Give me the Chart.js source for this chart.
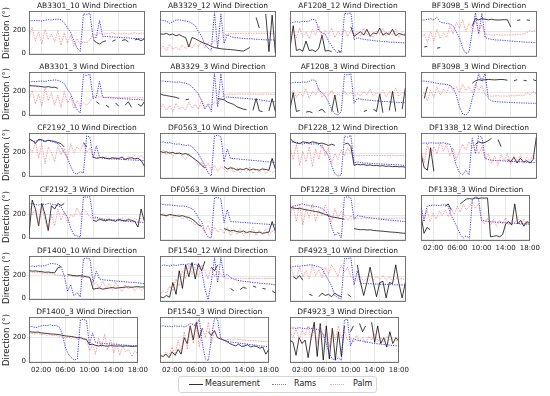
<!DOCTYPE html>
<html>
<head>
<meta charset="utf-8">
<script src="https://cdn.jsdelivr.net/npm/chart.js@4"></script>
<style>
  body { margin: 0; background: #fff; }
  #wrap { position: relative; width: 550px; height: 396px; overflow: hidden; font-family: "DejaVu Sans", sans-serif; }
  #wrap canvas { position: absolute; }
  .legend { position: absolute; left: 178px; top: 376px; width: 197px; height: 15px; border: 1px solid #d6d6d6; border-radius: 3px; background: #fff; }
  .sw { position: absolute; top: 7px; height: 0; width: 14px; }
  .lb { position: absolute; top: 1px; font-size: 8px; line-height: 12px; color: #222; }
</style>
</head>
<body>
<div id="wrap">
  <div class="legend">
    <span class="sw" style="left:10px; border-top:1.3px solid #333;"></span>
    <span class="lb" style="left:26px;">Measurement</span>
    <span class="sw" style="left:93px; border-top:1.2px dotted rgba(60,60,235,0.7);"></span>
    <span class="lb" style="left:115px;">Rams</span>
    <span class="sw" style="left:151px; border-top:1.2px dotted rgba(235,90,90,0.55);"></span>
    <span class="lb" style="left:174px;">Palm</span>
  </div>
</div>
<script>
// time axis, hours since 00:00
const hours = [0,0.5,1,1.5,2,2.5,3,3.5,4,4.5,5,5.5,6,6.5,7,7.5,8,8.5,9,9.5,10,10.5,11,11.5,12,12.5,13,13.5,14,14.5,15,15.5,16,16.5,17,17.5,18];
const xTicks = [2, 6, 10, 14, 18];
const yTicks = [0, 200];

// AB3301_10
const ab3301_10_meas = [null,null,null,null,null,null,null,null,null,null, null,null,null,null,null,null,null,null,null,null, 120,95,80,100,110,null,105,118,null,112, 120,100,null,118,125,110,128];
const ab3301_10_rams = [290,288,292,290,286,293,298,295,300,302, 296,270,225,185,110,45,15,350,345,355, 135,140,290,150,148,146,144,142,140,138, 136,135,132,130,130,128,126];
const ab3301_10_palm = [140,230,110,190,80,210,120,170,100,200, 70,180,90,160,60,130,80,100,90,120, 170,160,180,165,175,170,185,168,178,172, 180,170,176,182,170,178,175];
// AB3329_12
const ab3329_12_meas = [180,178,185,172,180,165,175,160,150,70, 150,140,125,110,100,90,75,65,60,55, 52,50,48,45,42,38,35,50,65,null, 320,230,null,350,30,340,20];
const ab3329_12_rams = [300,295,290,270,285,298,300,295,290,285, 270,250,200,160,90,60,40,360,60,350, 100,175,160,150,148,145,142,140,140,138, 135,135,132,130,130,130,128];
const ab3329_12_palm = [50,80,40,90,50,70,45,85,55,90, 60,100,70,120,60,110,90,130,100,140, 170,180,185,182,186,184,188,185,187,186, 188,185,186,184,187,185,186];
// AF1208_12
const af1208_12_meas = [60,250,40,50,35,120,40,45,30,60, 170,35,40,30,null,40,25,null,null,240, 160,180,200,170,220,160,190,180,230,170, 190,175,220,165,185,175,170];
const af1208_12_rams = [270,280,285,280,288,285,290,305,300,210, 190,180,120,80,40,20,30,355,350,360, 130,150,140,135,130,128,125,120,120,115, 115,112,110,110,108,105,105];
const af1208_12_palm = [170,210,150,230,160,200,140,220,170,250, 150,210,180,230,150,200,170,220,160,210, 170,200,160,230,170,190,150,210,180,230, 160,200,170,220,150,200,180];
// BF3098_5
const bf3098_5_meas = [null,70,75,null,null,60,65,null,null,null, null,null,null,null,null,null,250,310,300,310, 305,300,305,300,298,300,302,300,240,null, 295,300,null,300,295,null,300];
const bf3098_5_rams = [300,298,305,310,300,320,280,275,270,265, 250,200,150,60,15,30,200,360,180,355, 150,140,135,130,128,128,125,122,120,118, 115,115,112,110,110,108,106];
const bf3098_5_palm = [150,180,110,200,120,220,140,190,150,250, 180,280,230,300,200,270,220,290,200,260, 180,175,170,172,175,170,172,170,175,172, 178,175,180,190,210,200,220];
// AB3301_3
const ab3301_3_meas = [255,252,250,248,245,240,245,238,240,230, null,null,null,null,null,null,null,null,null,null, null,110,90,null,80,60,null,100,70,null, 80,110,60,null,90,70,110];
const ab3301_3_rams = [285,290,288,292,295,290,298,300,305,300, 290,270,220,180,100,40,10,350,345,355, 140,150,290,150,148,146,144,142,140,138, 136,134,132,130,130,128,126];
const ab3301_3_palm = [130,210,90,180,70,230,120,190,80,170, 60,200,100,150,50,120,70,100,80,110, 160,150,155,150,148,152,150,148,150,146, 148,145,150,147,145,148,146];
// AB3329_3
const ab3329_3_meas = [190,180,175,170,165,160,150,null,140,145, null,140,null,null,null,null,null,null,150,145, 140,120,110,100,80,70,60,55,null,50, 150,45,40,null,45,150,40];
const ab3329_3_rams = [300,298,295,292,290,288,290,285,280,270, 250,220,190,130,60,100,40,360,80,360, 150,165,160,158,156,155,152,150,148,145, 142,140,135,130,128,125,122];
const ab3329_3_palm = [60,100,50,90,40,110,60,80,50,120, 70,100,60,130,80,110,90,120,100,150, 180,185,188,186,190,188,187,189,188,190, 186,188,187,189,188,186,188];
// AF1208_3
const af1208_3_meas = [60,200,40,50,null,35,40,30,null,45, 60,30,null,40,180,30,null,null,null,null, null,null,null,40,50,null,60,40,190,30, null,50,210,40,null,60,240];
const af1208_3_rams = [280,285,288,285,290,288,295,310,300,220, 200,170,120,60,20,10,40,355,350,360, 110,150,145,140,138,135,132,130,128,126, 125,122,120,118,117,115,114];
const af1208_3_palm = [180,220,160,200,170,230,150,210,180,240, 160,200,175,220,160,190,170,210,180,200, 170,190,175,210,180,230,170,200,185,220, 165,210,180,240,170,200,185];
// BF3098_3
const bf3098_3_meas = [null,150,250,null,null,null,null,null,null,null, null,null,null,null,null,null,280,300,310,305, 310,312,310,308,310,312,310,305,null,300, 310,null,305,300,null,310,300];
const bf3098_3_rams = [300,298,295,290,285,280,275,272,270,260, 240,180,80,20,10,40,150,250,360,300, 360,150,130,125,122,120,120,118,117,115, 114,113,112,111,110,110,108];
const bf3098_3_palm = [150,200,130,220,160,250,180,230,200,270, 220,250,200,270,220,250,200,280,220,260, 180,175,170,172,175,170,172,170,174,172, 175,180,170,200,180,210,190];
// CF2192_10
const cf2192_10_meas = [320,310,280,320,315,300,310,305,300,290, 280,250,null,null,null,null,null,290,250,null, 160,150,155,160,150,145,155,150,148,160, 140,150,155,145,150,130,80];
const cf2192_10_rams = [310,305,300,310,305,300,310,300,290,280, 250,200,150,80,20,10,30,20,350,340, 150,260,160,150,148,145,145,143,140,140, 138,136,135,133,132,130,128];
const cf2192_10_palm = [250,200,300,150,280,100,250,200,120,260, 180,240,150,280,200,250,220,280,200,240, 170,150,160,145,165,150,140,160,150,165, 140,170,150,175,145,180,140];
// DF0563_10
const df0563_10_meas = [220,210,215,205,210,200,205,195,200,190, 170,150,130,100,80,null,null,null,null,null, 90,70,80,75,60,70,65,75,60,70, 65,60,70,65,60,160,70];
const df0563_10_rams = [295,300,290,295,285,280,282,275,270,272, 260,230,200,150,100,40,10,350,355,345, 130,240,160,158,155,153,150,148,145,143, 140,138,135,132,130,128,125];
const df0563_10_palm = [200,230,190,220,180,210,200,180,150,200, 170,140,100,130,70,120,60,100,50,90, 70,40,90,40,80,35,70,40,90,30, 70,40,80,30,60,40,50];
// DF1228_12
const df1228_12_meas = [330,300,290,285,300,295,290,300,295,285, 290,280,270,280,270,null,null,280,290,260, 100,110,105,108,100,105,98,100,95,98, 92,95,90,92,88,90,85];
const df1228_12_rams = [290,300,295,288,280,290,285,280,285,275, 260,220,180,100,30,10,20,350,340,355, 120,130,125,120,120,118,115,115,112,112, 110,108,108,105,105,103,100];
const df1228_12_palm = [250,150,280,100,220,130,260,90,240,150, 280,180,250,120,200,150,230,180,250,200, 180,185,182,186,184,185,183,186,184,185, 183,184,185,183,184,185,183];
// DF1338_12
const df1338_12_meas = [200,80,60,250,50,null,null,null,null,null, null,null,null,null,null,null,null,280,300,290, 295,310,330,null,320,260,null,150,130,170, 120,160,130,140,120,150,340];
const df1338_12_rams = [285,290,288,292,290,288,290,292,285,280, 200,100,40,20,60,20,330,200,350,340, 160,150,145,142,140,140,138,136,135,133, 132,130,130,128,127,126,125];
const df1338_12_palm = [250,120,280,180,260,200,300,220,280,180, 250,150,220,280,230,300,250,280,200,260, 150,200,120,180,100,190,140,200,110,180, 130,190,120,170,140,190,130];
// CF2192_3
const cf2192_3_meas = [20,330,250,100,300,200,60,280,250,300, 280,300,null,null,null,null,null,null,null,null, 150,140,160,150,145,155,150,140,160,150, 145,155,150,140,90,250,140];
const cf2192_3_rams = [295,300,290,285,295,290,300,295,290,280, 270,220,180,80,20,10,0,360,355,360, 170,180,165,160,158,155,152,150,148,145, 142,140,138,136,134,132,130];
const cf2192_3_palm = [300,200,250,100,280,150,50,200,100,250, 150,220,130,200,180,260,200,250,220,180, 160,170,150,165,140,170,150,160,145,175, 150,170,140,165,150,170,155];
// DF0563_3
const df0563_3_meas = [210,205,200,210,205,200,195,200,190,185, 170,150,120,110,null,null,null,null,null,null, 90,80,70,75,65,60,70,55,65,60, 55,60,50,55,60,150,65];
const df0563_3_rams = [300,295,290,292,288,285,280,282,278,270, 260,230,180,150,60,20,10,350,355,340, 140,250,150,148,146,144,142,140,138,136, 134,132,130,128,126,124,122];
const df0563_3_palm = [200,220,190,210,180,200,210,170,190,160, 150,120,150,100,60,120,40,100,60,90, 50,100,30,80,40,90,30,70,40,100, 30,80,40,90,30,70,50];
// DF1228_3
const df1228_3_meas = [270,265,260,262,255,250,245,240,235,230, 220,210,200,190,185,180,175,170,null,null, 90,85,80,82,78,80,75,72,70,68, 65,62,60,58,55,52,50];
const df1228_3_rams = [275,280,285,295,300,290,285,280,278,272, 260,240,200,100,30,60,10,355,360,350, 170,200,195,190,185,180,178,175,170,168, 165,162,160,158,155,152,150];
const df1228_3_palm = [200,280,150,300,120,260,180,300,150,250, 200,290,230,150,260,180,240,200,160,200, 170,180,175,180,178,180,176,178,180,177, 178,180,176,178,180,177,178];
// DF1338_3
const df1338_3_meas = [200,50,100,80,null,null,null,null,280,300, 250,null,null,300,320,340,345,340,350,345, 350,348,350,20,25,30,20,40,130,150, 120,300,130,160,110,150,130];
const df1338_3_rams = [285,150,280,285,290,288,285,290,292,280, 200,150,100,40,10,30,5,340,360,350, 160,155,150,148,146,145,143,142,140,138, 136,135,133,132,130,128,125];
const df1338_3_palm = [240,180,250,150,220,170,240,200,250,190, 260,210,280,230,300,250,280,320,260,300, 160,130,180,120,170,110,160,130,180,120, 160,140,190,120,170,130,160];
// DF1400_10
const df1400_10_meas = [245,240,242,238,235,230,232,228,225,270, 280,null,210,205,200,198,200,195,190,185, 80,85,90,80,85,90,95,88,92,95, 98,100,95,100,102,98,100];
const df1400_10_rams = [280,285,280,290,285,290,300,310,305,300, 280,200,60,120,20,50,10,350,355,350, 140,240,170,165,160,158,155,152,150,148, 145,142,140,138,136,132,128];
const df1400_10_palm = [235,230,225,230,220,225,215,220,210,205, 200,200,195,200,190,195,190,185,190,180, 120,140,80,150,90,130,70,140,100,60, 120,80,110,60,100,70,90];
// DF1540_12
const df1540_12_meas = [30,20,40,25,150,50,250,100,300,200, 320,180,310,250,330,null,280,250,300,null, null,null,100,80,null,90,110,100,null,120, 110,null,100,95,null,80,60];
const df1540_12_rams = [280,300,295,290,300,295,300,305,300,310, 300,305,290,250,100,5,150,360,150,360, 200,220,190,180,170,165,160,158,155,150, 148,145,142,140,138,135,130];
const df1540_12_palm = [40,80,60,120,80,180,120,250,180,300, 220,280,200,300,250,180,280,200,250,220, 190,185,188,186,184,186,185,184,186,185, 184,186,185,184,186,185,184];
// DF4923_10
const df4923_10_meas = [null,200,180,210,170,null,50,40,null,30, 60,40,50,30,60,40,30,null,50,30, null,300,150,40,150,280,150,30,150,160, 20,150,140,300,140,20,150];
const df4923_10_rams = [280,285,290,288,292,295,300,298,290,285, 270,220,170,120,40,20,10,355,350,360, 130,250,145,142,140,140,138,137,136,135, 134,133,132,131,130,130,128];
const df4923_10_palm = [300,220,180,280,200,250,180,300,210,260, 190,280,220,300,250,200,300,240,280,200, 180,170,200,160,190,210,170,200,180,210, 170,200,160,190,175,185,170];
// DF1400_3
const df1400_3_meas = [250,248,245,248,240,238,235,232,230,228, 225,220,215,212,210,205,200,200,190,185, 140,145,135,130,135,130,128,132,130,128, 130,127,130,128,125,128,130];
const df1400_3_rams = [290,295,285,290,300,305,300,310,300,305, 290,230,120,60,30,10,20,350,355,345, 140,240,160,155,152,150,148,146,145,143, 140,138,136,134,132,130,128];
const df1400_3_palm = [240,235,230,240,225,230,220,225,215,220, 210,205,200,205,195,200,190,195,185,190, 90,140,60,200,120,230,100,180,70,150, 50,130,80,100,40,90,60];
// DF1540_3
const df1540_3_meas = [50,40,60,30,80,50,100,60,200,150, 300,180,330,200,280,null,250,220,260,200, 190,180,170,150,140,130,145,125,130,140, 120,130,125,110,120,60,100];
const df1540_3_rams = [295,300,295,298,292,300,295,300,290,300, 320,310,300,360,150,20,5,200,360,360, 200,180,170,165,160,158,155,150,148,145, 140,138,135,130,128,125,120];
const df1540_3_palm = [60,40,80,50,120,60,180,80,250,100, 300,150,330,120,280,200,330,150,260,200, 185,180,182,185,180,190,185,180,178,175, 176,174,172,170,168,170,168];
// DF4923_3
const df4923_3_meas = [180,160,50,200,150,180,30,200,330,40, 320,10,300,20,280,10,250,40,300,null, 250,300,null,320,250,300,null,330,160,300, 150,200,120,250,150,200,170];
const df4923_3_rams = [280,282,278,285,280,275,282,278,275,270, 260,230,150,60,20,10,30,5,350,355, 130,190,180,175,170,165,160,155,150,148, 145,142,140,136,134,130,128];
const df4923_3_palm = [250,200,280,180,260,220,300,180,280,150, 300,200,260,120,280,180,300,200,250,180, 200,160,220,170,200,150,210,180,230,170, 200,160,210,180,190,170,200];

// name, measurement, rams, palm, row, col
const panels = [
  ['AB3301_10', ab3301_10_meas, ab3301_10_rams, ab3301_10_palm, 0, 0],
  ['AB3329_12', ab3329_12_meas, ab3329_12_rams, ab3329_12_palm, 0, 1],
  ['AF1208_12', af1208_12_meas, af1208_12_rams, af1208_12_palm, 0, 2],
  ['BF3098_5', bf3098_5_meas, bf3098_5_rams, bf3098_5_palm, 0, 3],
  ['AB3301_3', ab3301_3_meas, ab3301_3_rams, ab3301_3_palm, 1, 0],
  ['AB3329_3', ab3329_3_meas, ab3329_3_rams, ab3329_3_palm, 1, 1],
  ['AF1208_3', af1208_3_meas, af1208_3_rams, af1208_3_palm, 1, 2],
  ['BF3098_3', bf3098_3_meas, bf3098_3_rams, bf3098_3_palm, 1, 3],
  ['CF2192_10', cf2192_10_meas, cf2192_10_rams, cf2192_10_palm, 2, 0],
  ['DF0563_10', df0563_10_meas, df0563_10_rams, df0563_10_palm, 2, 1],
  ['DF1228_12', df1228_12_meas, df1228_12_rams, df1228_12_palm, 2, 2],
  ['DF1338_12', df1338_12_meas, df1338_12_rams, df1338_12_palm, 2, 3],
  ['CF2192_3', cf2192_3_meas, cf2192_3_rams, cf2192_3_palm, 3, 0],
  ['DF0563_3', df0563_3_meas, df0563_3_rams, df0563_3_palm, 3, 1],
  ['DF1228_3', df1228_3_meas, df1228_3_rams, df1228_3_palm, 3, 2],
  ['DF1338_3', df1338_3_meas, df1338_3_rams, df1338_3_palm, 3, 3],
  ['DF1400_10', df1400_10_meas, df1400_10_rams, df1400_10_palm, 4, 0],
  ['DF1540_12', df1540_12_meas, df1540_12_rams, df1540_12_palm, 4, 1],
  ['DF4923_10', df4923_10_meas, df4923_10_rams, df4923_10_palm, 4, 2],
  ['DF1400_3', df1400_3_meas, df1400_3_rams, df1400_3_palm, 5, 0],
  ['DF1540_3', df1540_3_meas, df1540_3_rams, df1540_3_palm, 5, 1],
  ['DF4923_3', df4923_3_meas, df4923_3_rams, df4923_3_palm, 5, 2]
];
const xLabelPanels = ['DF1338_3', 'DF1400_3', 'DF1540_3', 'DF4923_3'];

// grid geometry
const colLeft = [29, 160, 290, 421];
const rowTop = [11, 72, 133, 195, 256, 317];
const plotW = 116, plotH = 46, yAxisW = 29, titleH = 13;

Chart.defaults.font.family = '"DejaVu Sans", sans-serif';

// box around each plot area, like matplotlib spines
const framePlugin = {
  id: 'frame',
  afterDraw(chart) {
    const a = chart.chartArea, ctx = chart.ctx;
    ctx.save();
    ctx.strokeStyle = '#555';
    ctx.lineWidth = 0.8;
    ctx.strokeRect(Math.round(a.left) + 0.5, Math.round(a.top) + 0.5, Math.round(a.right - a.left) - 1, Math.round(a.bottom - a.top) - 1);
    ctx.restore();
  }
};

function toPoints(values) {
  return hours.map((h, i) => ({ x: h, y: values[i] }));
}

function hhmm(v) {
  return (v < 10 ? '0' : '') + v + ':00';
}

const wrap = document.getElementById('wrap');

panels.forEach(p => {
  const [name, meas, rams, palm, row, col] = p;
  const showX = xLabelPanels.includes(name);
  const showY = col === 0;
  const xh = showX ? 14 : 3;

  const canvas = document.createElement('canvas');
  canvas.width = yAxisW + plotW + 4;
  canvas.height = titleH + plotH + xh;
  canvas.style.width = canvas.width + 'px';
  canvas.style.height = canvas.height + 'px';
  canvas.style.left = (colLeft[col] - yAxisW) + 'px';
  canvas.style.top = (rowTop[row] - titleH) + 'px';
  wrap.appendChild(canvas);

  new Chart(canvas, {
    type: 'line',
    data: {
      datasets: [
        { label: 'Measurement', data: toPoints(meas), borderColor: 'rgba(0,0,0,0.85)', borderWidth: 0.9, pointRadius: 0, spanGaps: false, order: 3 },
        { label: 'Rams', data: toPoints(rams), borderColor: 'rgba(25,25,235,0.85)', borderWidth: 1, borderDash: [1.2, 1.2], pointRadius: 0, order: 2 },
        { label: 'Palm', data: toPoints(palm), borderColor: 'rgba(235,80,80,0.5)', borderWidth: 1, borderDash: [1.6, 1], pointRadius: 0, order: 1 }
      ]
    },
    options: {
      responsive: false,
      animation: false,
      devicePixelRatio: 1,
      events: [],
      layout: { padding: { left: 0, right: 4, top: 0, bottom: 0 } },
      plugins: {
        legend: { display: false },
        tooltip: { enabled: false },
        title: {
          display: true,
          fullSize: false, // centre over the plot area, not the canvas
          text: name + ' Wind Direction',
          color: '#222',
          font: { size: 7.5, weight: 'normal' },
          padding: { top: 3.6, bottom: 0.4 }
        }
      },
      scales: {
        x: {
          type: 'linear',
          min: 0,
          max: 18.1,
          afterBuildTicks: s => { s.ticks = xTicks.map(v => ({ value: v })); },
          afterFit: s => { s.height = xh; },
          grid: { color: '#e2e2e2', lineWidth: 0.8, drawTicks: showX, tickLength: 2 },
          border: { display: false },
          ticks: { display: showX, maxRotation: 0, autoSkip: false, padding: 1, color: '#222', font: { size: 7 }, callback: v => hhmm(v) }
        },
        y: {
          min: -15,
          max: 375,
          afterBuildTicks: s => { s.ticks = yTicks.map(v => ({ value: v })); },
          afterFit: s => { s.width = yAxisW; },
          grid: { color: '#e2e2e2', lineWidth: 0.8, drawTicks: showY, tickLength: 2 },
          border: { display: false },
          ticks: { display: showY, padding: 1, color: '#222', font: { size: 7 } },
          title: { display: showY, text: 'Direction (°)', color: '#222', font: { size: 8.5 }, padding: { top: 2, bottom: 0 } }
        }
      }
    },
    plugins: [framePlugin]
  });
});
</script>
</body>
</html>
